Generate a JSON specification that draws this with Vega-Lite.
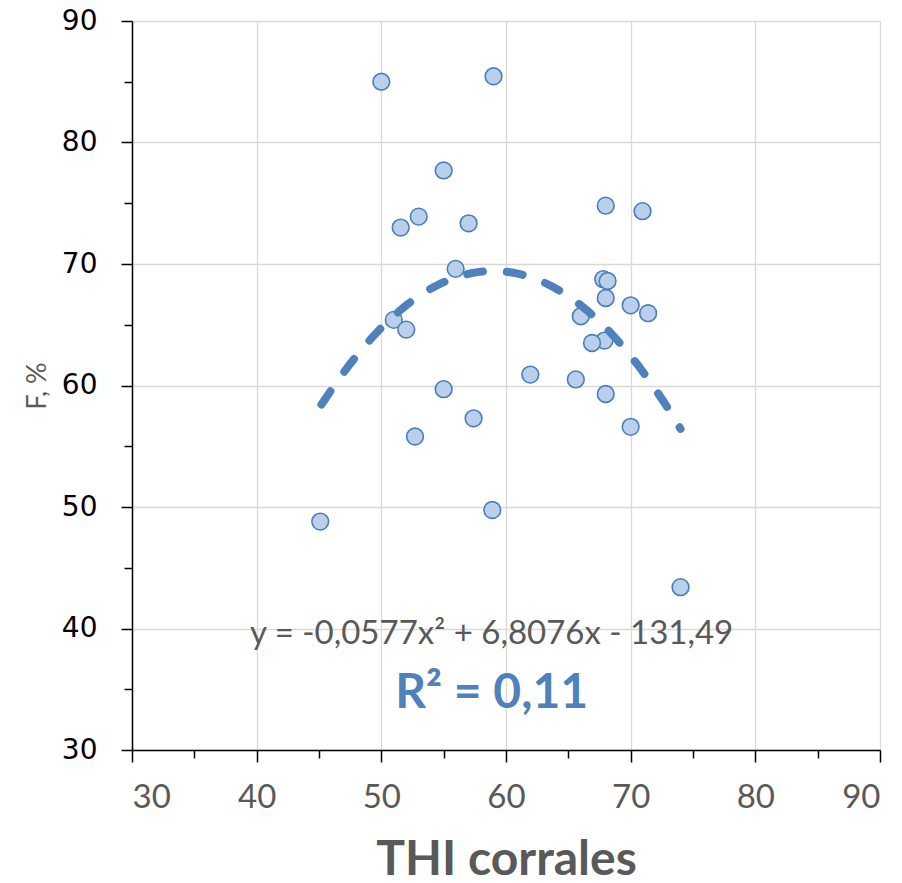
{
  "$schema": "https://vega.github.io/schema/vega-lite/v6.json",
  "width": 748,
  "height": 729,
  "autosize": {"type": "none"},
  "padding": {"left": 132, "top": 21, "right": 22, "bottom": 133},
  "background": "white",
  "config": {
    "view": {"stroke": null},
    "axis": {
      "domainColor": "#000000",
      "domainWidth": 1.5,
      "tickColor": "#000000",
      "tickWidth": 1.5,
      "gridColor": "#D9D9D9",
      "gridWidth": 1.3
    }
  },
  "datasets": {
    "points": [
      {"THI": 50.0, "F": 85.0},
      {"THI": 59.0, "F": 85.45},
      {"THI": 55.0, "F": 77.7},
      {"THI": 53.0, "F": 73.9},
      {"THI": 51.55, "F": 73.0},
      {"THI": 57.0, "F": 73.35},
      {"THI": 55.96, "F": 69.6},
      {"THI": 51.0, "F": 65.4},
      {"THI": 52.0, "F": 64.6},
      {"THI": 55.0, "F": 59.7},
      {"THI": 52.7, "F": 55.8},
      {"THI": 57.4, "F": 57.3},
      {"THI": 45.1, "F": 48.8},
      {"THI": 58.9, "F": 49.75},
      {"THI": 61.95, "F": 60.9},
      {"THI": 68.0, "F": 74.8},
      {"THI": 70.95, "F": 74.35},
      {"THI": 67.8, "F": 68.75},
      {"THI": 68.15, "F": 68.6},
      {"THI": 68.0, "F": 67.2},
      {"THI": 70.0, "F": 66.6},
      {"THI": 71.4, "F": 65.95},
      {"THI": 66.0, "F": 65.7},
      {"THI": 67.9, "F": 63.7},
      {"THI": 66.9, "F": 63.5},
      {"THI": 65.6, "F": 60.5},
      {"THI": 68.0, "F": 59.3},
      {"THI": 70.0, "F": 56.6},
      {"THI": 74.0, "F": 43.4}
    ],
    "notes": [
      {"kind": "eq", "THI": 58.85, "F": 38.7, "label": "y = -0,0577x² + 6,8076x - 131,49"},
      {"kind": "r2", "THI": 58.85, "F": 33.45, "label": "R² = 0,11"}
    ]
  },
  "layer": [
    {
      "data": {"name": "points"},
      "mark": {"type": "point", "shape": "circle", "filled": true, "fill": "#B9CFEB", "stroke": "#4A7EBB", "strokeWidth": 1.6, "opacity": 1, "size": 280},
      "encoding": {
        "x": {
          "field": "THI", "type": "quantitative",
          "scale": {"domain": [30, 90], "nice": false, "zero": false},
          "axis": {
            "title": "THI corrales",
            "values": [30, 35, 40, 45, 50, 55, 60, 65, 70, 75, 80, 85, 90],
            "labelExpr": "datum.value % 10 === 0 ? datum.label : ''",
            "tickSize": {"condition": {"test": "datum.value % 10 === 0", "value": 12}, "value": 8},
            "gridOpacity": {"condition": {"test": "datum.value % 10 === 0", "value": 1}, "value": 0},
            "labelFont": "Lato",
            "labelFontSize": 33,
            "labelColor": "#595959",
            "labelPadding": 19,
            "titleFont": "Lato",
            "titleFontWeight": "bold",
            "titleFontSize": 48,
            "titleColor": "#595959",
            "titlePadding": 22
          }
        },
        "y": {
          "field": "F", "type": "quantitative",
          "scale": {"domain": [30, 90], "nice": false, "zero": false},
          "axis": {
            "title": "F, %",
            "values": [30, 35, 40, 45, 50, 55, 60, 65, 70, 75, 80, 85, 90],
            "labelExpr": "datum.value % 10 === 0 ? datum.label : ''",
            "tickSize": {"condition": {"test": "datum.value % 10 === 0", "value": 11}, "value": 8},
            "gridOpacity": {"condition": {"test": "datum.value % 10 === 0", "value": 1}, "value": 0},
            "labelFont": "DejaVu Sans",
            "labelFontSize": 28,
            "labelColor": "#000000",
            "labelPadding": 24,
            "titleFont": "Lato",
            "titleFontWeight": "normal",
            "titleFontSize": 27,
            "titleColor": "#595959",
            "titlePadding": 10
          }
        }
      }
    },
    {
      "data": {"name": "points"},
      "transform": [
        {"regression": "F", "on": "THI", "method": "poly", "order": 2, "extent": [45.2, 74]}
      ],
      "mark": {"type": "line", "color": "#4F81BD", "strokeWidth": 8, "strokeDash": [16, 24], "strokeCap": "round"},
      "encoding": {
        "x": {"field": "THI", "type": "quantitative"},
        "y": {"field": "F", "type": "quantitative"}
      }
    },
    {
      "data": {"name": "notes"},
      "transform": [{"filter": "datum.kind === 'eq'"}],
      "mark": {"type": "text", "font": "Lato", "fontSize": 33, "color": "#595959", "align": "center", "baseline": "alphabetic"},
      "encoding": {
        "x": {"field": "THI", "type": "quantitative"},
        "y": {"field": "F", "type": "quantitative"},
        "text": {"field": "label"}
      }
    },
    {
      "data": {"name": "notes"},
      "transform": [{"filter": "datum.kind === 'r2'"}],
      "mark": {"type": "text", "font": "Lato", "fontSize": 48, "fontWeight": "bold", "color": "#4F81BD", "align": "center", "baseline": "alphabetic"},
      "encoding": {
        "x": {"field": "THI", "type": "quantitative"},
        "y": {"field": "F", "type": "quantitative"},
        "text": {"field": "label"}
      }
    }
  ]
}
